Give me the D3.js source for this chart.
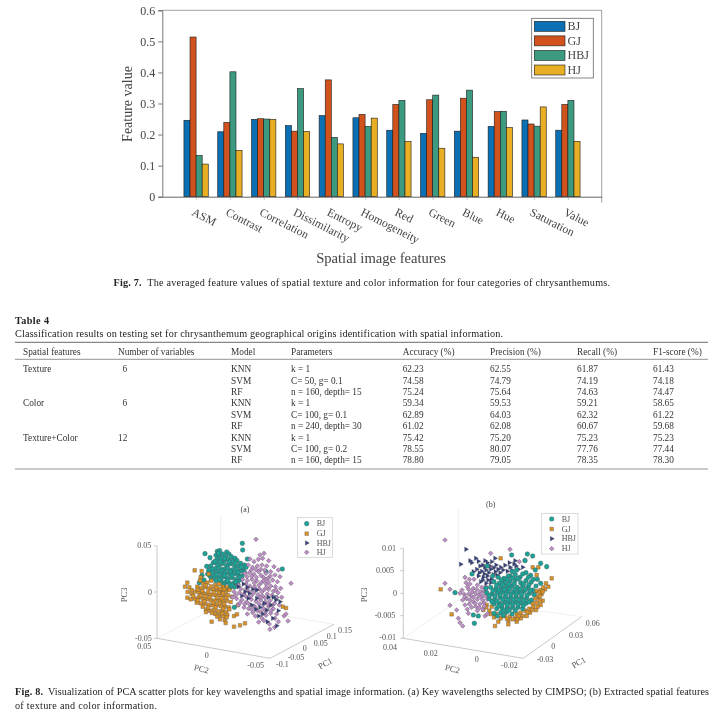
<!DOCTYPE html>
<html><head><meta charset="utf-8">
<script src="https://cdn.jsdelivr.net/npm/d3@7"></script>
<style>
html,body{margin:0;padding:0;background:#fff}
svg{display:block;filter:blur(0.35px)}
text{font-family:"Liberation Serif",serif}
</style></head><body><svg id="c" width="720" height="720"></svg>
<script>
// ---- Fig. 7 data
const features=["ASM","Contrast","Correlation","Dissimilarity","Entropy","Homogeneity","Red","Green","Blue","Hue","Saturation","Value"];
const origins=["BJ","GJ","HBJ","HJ"];
const barBJ=[.246,.209,.249,.229,.261,.254,.214,.204,.211,.226,.247,.214];
const barGJ=[.514,.239,.251,.211,.376,.265,.297,.312,.317,.274,.234,.297];
const barHBJ=[.133,.402,.250,.348,.191,.226,.310,.327,.343,.275,.227,.310];
const barHJ=[.105,.149,.249,.210,.170,.253,.178,.156,.127,.223,.289,.178];
const barColors=["#0b6fb3","#d2521d","#3b9a80","#e8ae24"];
const yTicks=[0,.1,.2,.3,.4,.5,.6];
// ---- Table 4 data
const tableHeaders=["Spatial features","Number of variables","Model","Parameters","Accuracy (%)","Precision (%)","Recall (%)","F1-score (%)"];
const tableFeature=["Texture","","","Color","","","Texture+Color","",""];
const tableVars=["6","","","6","","","12","",""];
const tableModel=["KNN","SVM","RF","KNN","SVM","RF","KNN","SVM","RF"];
const tableParams=["k = 1","C= 50, g= 0.1","n = 160, depth= 15","k = 1","C= 100, g= 0.1","n = 240, depth= 30","k = 1","C= 100, g= 0.2","n = 160, depth= 15"];
const tableAcc=["62.23","74.58","75.24","59.34","62.89","61.02","75.42","78.55","78.80"];
const tablePre=["62.55","74.79","75.64","59.53","64.03","62.08","75.20","80.07","79.05"];
const tableRec=["61.87","74.19","74.63","59.21","62.32","60.67","75.23","77.76","78.35"];
const tableF1=["61.43","74.18","74.47","58.65","61.22","59.68","75.23","77.44","78.30"];
// ---- Fig. 8 projected scatter readings (horizontal and vertical position on the drawing plane of each panel)
const aBJ=[[285,191],[397,160],[398,180],[517,237],[412,207],[322,184],[329,182],[350,186],[357,192],[318,196],[327,199],[338,192],[346,199],[364,200],[375,205],[300,203],[321,209],[333,206],[343,213],[355,208],[367,214],[381,212],[392,220],[404,225],[310,218],[322,224],[336,221],[349,226],[360,222],[373,227],[386,229],[399,236],[408,232],[290,229],[302,228],[316,236],[328,233],[341,238],[353,235],[366,240],[378,238],[391,243],[403,246],[296,241],[308,247],[322,246],[334,250],[347,248],[359,252],[372,251],[384,255],[396,258],[276,256],[300,258],[313,260],[327,262],[340,261],[352,265],[365,263],[377,268],[389,270],[268,278],[318,272],[333,274],[346,277],[358,280],[371,279],[383,282],[361,293],[374,291],[468,245],[373,352],[498,323],[326,190],[344,206],[315,214],[331,216],[358,216],[376,219],[394,231],[306,237],[335,241],[361,245],[384,247],[293,252],[319,254],[344,256],[366,257],[390,262],[329,268],[353,272],[378,275],[341,284],[366,286],[304,268],[282,270],[350,297]];
const aGJ=[[254,241],[275,243],[272,262],[296,252],[232,278],[225,290],[238,292],[245,300],[270,272],[280,281],[292,278],[304,272],[316,285],[328,282],[338,290],[350,292],[262,290],[274,294],[286,292],[298,296],[310,298],[322,300],[335,302],[348,305],[358,300],[233,306],[245,312],[256,305],[268,308],[280,310],[292,312],[304,314],[316,316],[329,315],[342,318],[354,316],[366,320],[232,323],[242,328],[254,326],[266,322],[278,326],[290,328],[302,330],[314,332],[326,330],[338,334],[350,332],[362,336],[260,338],[272,340],[284,342],[296,344],[308,346],[320,344],[332,348],[344,350],[356,352],[288,358],[300,362],[312,360],[324,364],[336,362],[348,366],[358,358],[316,372],[328,376],[340,378],[352,374],[330,388],[344,390],[350,382],[305,395],[347,399],[372,410],[390,406],[405,400],[372,378],[381,373],[518,350],[528,354],[288,366],[384,345],[287,286],[303,289],[319,292],[331,296],[343,298],[263,299],[277,303],[295,305],[311,307],[326,308],[339,310],[250,318],[272,316],[286,319],[299,322],[321,323],[335,325],[349,324],[263,331],[283,334],[309,338],[329,339],[343,342],[278,350],[295,353],[317,352],[340,356],[306,369],[322,380],[336,370]];
const aHBJ=[[385,290],[400,282],[412,292],[405,305],[418,310],[395,318],[425,345],[437,358],[450,352],[462,340],[475,322],[490,322],[498,330],[482,345],[470,360],[446,378],[458,372],[500,407],[472,395],[440,325],[428,298],[488,385],[510,335],[505,362],[415,325],[440,300]];
const aHJ=[[438,148],[543,280],[534,393],[420,207],[432,215],[450,195],[462,190],[458,205],[445,208],[476,212],[470,228],[492,230],[505,240],[415,225],[428,232],[442,228],[456,225],[468,250],[482,245],[495,255],[510,260],[405,250],[418,248],[432,252],[446,245],[460,262],[474,265],[488,270],[502,275],[398,268],[412,272],[426,268],[440,272],[454,278],[468,282],[482,288],[496,290],[512,295],[385,285],[420,288],[434,290],[448,296],[462,300],[476,298],[490,304],[504,308],[372,305],[388,308],[402,312],[416,304],[430,310],[444,314],[458,318],[472,312],[486,316],[515,322],[368,322],[380,326],[396,330],[410,336],[424,328],[438,334],[452,330],[466,336],[480,332],[494,340],[508,345],[385,345],[402,352],[416,356],[432,348],[447,342],[460,356],[476,350],[490,356],[500,372],[412,372],[428,368],[442,362],[456,385],[468,376],[482,370],[495,385],[522,378],[528,372],[446,396],[462,392],[478,402],[480,418],[494,412],[505,395],[436,378],[424,240],[438,239],[452,238],[464,240],[411,260],[425,258],[439,262],[453,256],[467,268],[481,258],[408,282],[433,279],[447,285],[461,272],[476,277],[393,297],[409,296],[438,301],[455,306],[469,292],[498,300],[378,315],[408,320],[423,318],[451,322],[466,324],[499,322],[390,338],[404,342],[419,344],[460,344],[473,342],[487,346],[425,358],[452,366],[467,365],[484,362],[436,352]];
const bBJ=[[255,308],[425,195],[472,192],[488,198],[512,220],[530,230],[313,400],[310,375],[325,378],[465,212],[352,228],[368,258],[306,252],[385,262],[402,265],[420,258],[436,254],[450,262],[468,248],[482,256],[496,240],[502,268],[512,280],[372,275],[388,280],[404,278],[420,274],[436,270],[452,278],[468,272],[484,276],[498,288],[362,292],[378,296],[394,292],[410,290],[426,288],[442,292],[458,288],[474,292],[488,300],[350,308],[366,312],[382,308],[398,306],[414,304],[430,306],[446,306],[462,304],[478,310],[492,314],[358,326],[374,328],[390,322],[406,320],[422,322],[438,320],[454,322],[470,324],[484,330],[372,342],[388,340],[404,336],[420,338],[436,336],[452,338],[468,340],[380,356],[396,354],[412,352],[428,352],[444,352],[458,356],[372,370],[392,368],[410,366],[426,372],[415,258],[348,295],[440,240],[427,245],[458,252],[475,262],[490,268],[395,270],[412,268],[428,264],[444,266],[380,286],[398,285],[416,283],[433,281],[461,282],[477,284],[369,302],[387,300],[403,298],[419,296],[435,298],[451,298],[467,298],[481,302],[358,316],[375,318],[391,314],[408,312],[423,313],[439,313],[455,313],[471,316],[366,335],[381,333],[398,329],[414,329],[430,329],[446,329],[462,331],[477,336],[396,345],[412,344],[428,344],[444,344],[460,347],[386,348],[402,361],[418,360],[436,362],[382,378],[400,376]];
const bGJ=[[212,298],[245,373],[392,205],[545,265],[375,408],[415,403],[440,395],[535,290],[525,298],[512,300],[500,303],[515,312],[505,322],[518,332],[500,338],[512,345],[490,350],[478,356],[498,360],[480,368],[466,362],[452,368],[440,372],[458,378],[436,384],[420,380],[405,378],[392,385],[372,382],[385,395],[415,392],[350,345],[358,362],[340,360],[365,350],[528,280],[500,255],[488,232],[510,318],[470,378],[452,385],[505,232],[520,292],[508,308],[496,326],[510,332],[488,340],[503,350],[472,366],[486,360],[446,378],[428,388],[411,386],[398,378],[378,372],[362,372],[348,352],[518,305],[494,312],[442,388]];
const bHBJ=[[288,178],[272,223],[300,212],[317,205],[345,212],[375,205],[305,218],[325,214],[338,225],[352,218],[365,215],[378,225],[392,232],[405,226],[420,232],[432,222],[445,238],[458,232],[320,238],[335,244],[348,240],[362,238],[376,245],[390,248],[325,258],[340,262],[352,258],[364,268],[332,275],[348,280],[362,278],[310,245],[435,212],[418,218],[330,228],[344,232],[358,228],[371,233],[384,238],[399,240],[412,244],[328,248],[343,252],[356,248],[370,254],[381,256],[338,270],[354,270],[425,240],[438,228]];
const bHJ=[[225,150],[225,280],[240,298],[240,346],[260,360],[265,385],[270,398],[278,408],[362,190],[420,178],[465,210],[285,262],[298,268],[288,278],[300,282],[312,268],[270,310],[282,312],[296,298],[310,295],[322,285],[335,292],[348,290],[278,330],[290,326],[304,318],[316,310],[330,305],[342,302],[285,345],[298,342],[310,335],[322,328],[334,322],[346,318],[292,358],[305,352],[318,350],[330,342],[342,338],[295,370],[322,362],[338,358],[345,378],[360,230],[448,215],[352,372],[292,290],[306,305],[320,298],[335,312],[348,306],[276,300],[296,312],[311,322],[325,316],[338,330],[352,328],[300,330],[315,340],[328,352],[343,348],[285,320]];
const panelA={title:"(a)",order:[[0,aBJ],[1,aGJ],[3,aHJ],[2,aHBJ]]};
const panelB={title:"(b)",order:[[1,bGJ],[3,bHJ],[2,bHBJ],[0,bBJ]]};
const scatterColors=["#1ca297","#dc9326","#333f80","#bb8cc5"];

const svg=d3.select("#c");
// ================= Fig. 7
const x=d3.scaleLinear().domain([0,13]).range([162.3,601.7]);
const y=d3.scaleLinear().domain([0,.6]).range([196.7,10.3]);
const off=d3.scaleBand().domain(origins).range([-.36,.36]);
const g=svg.append("g");
g.append("path").attr("d",`M${x(0)},${y(.6)}H${x(13)}V${y(0)+6}`).attr("fill","none").attr("stroke","#888").attr("stroke-width",.8);
[barBJ,barGJ,barHBJ,barHJ].forEach((vals,s)=>{
  g.selectAll(null).data(vals).join("rect")
   .attr("x",(d,i)=>x(i+1+off(origins[s])))
   .attr("width",x(off.bandwidth())-x(0))
   .attr("y",d=>y(d)).attr("height",d=>y(0)-y(d))
   .attr("fill",barColors[s]).attr("stroke","#1c1c1c").attr("stroke-width",.6);
});
const ya=g.append("g").attr("transform",`translate(${x(0)},0)`).call(d3.axisLeft(y).tickValues(yTicks).tickFormat(d=>d===0?"0":d.toFixed(1)).tickSize(4).tickPadding(3));
ya.selectAll("text").attr("font-size",12).attr("fill","#444").style("font-family","Liberation Serif");
ya.selectAll("line,path").attr("stroke","#555").attr("stroke-width",.8);
const xa=g.append("g").attr("transform",`translate(0,${y(0)})`).call(d3.axisBottom(x).tickValues(d3.range(1,13)).tickFormat("").tickSize(3).tickSizeOuter(0));
xa.selectAll("line").attr("stroke","#999").attr("stroke-width",.6);
xa.select("path").attr("stroke","#555").attr("stroke-width",.9);
g.selectAll(null).data(features).join("text")
 .attr("transform",(d,i)=>`translate(${x(i+1)-5},${y(0)+18}) rotate(27)`)
 .attr("font-size",11.7).attr("fill","#444").text(d=>d);
g.append("text").attr("transform",`translate(132,${y(.3)+.5}) rotate(-90)`).attr("text-anchor","middle").attr("font-size",14).attr("fill","#444").text("Feature value");
g.append("text").attr("x",381).attr("y",262.5).attr("text-anchor","middle").attr("font-size",14.6).attr("fill","#444").text("Spatial image features");
// legend
g.append("rect").attr("x",531.7).attr("y",18.3).attr("width",61.6).attr("height",59.7).attr("fill","#fff").attr("stroke","#666").attr("stroke-width",.8);
const ly=d3.scalePoint().domain(origins).range([26.3,70]);
origins.forEach((o,s)=>{
  g.append("rect").attr("x",534.3).attr("y",ly(o)-5).attr("width",30.7).attr("height",10).attr("fill",barColors[s]).attr("stroke","#1c1c1c").attr("stroke-width",.6);
  g.append("text").attr("x",567.5).attr("y",ly(o)+4).attr("font-size",12).attr("fill","#444").text(o);
});
// ================= captions
function cap(str,px,py,len,bold,size){
  const t=svg.append("text").attr("x",px).attr("y",py).attr("font-size",size||10.2).attr("fill","#222").attr("font-weight",bold?"bold":null).text(str);
  if(len)t.attr("textLength",len).attr("lengthAdjust","spacing");
  return t;
}
cap("Fig. 7.",113.5,285.5,28,true);
cap("The averaged feature values of spatial texture and color information for four categories of chrysanthemums.",147.3,285.5,462.7);
cap("Table 4",15,324,34,true);
cap("Classification results on testing set for chrysanthemum geographical origins identification with spatial information.",15,336.5,488);
// ================= Table
[[342.3,"#444",.8],[359.3,"#888",.9],[469,"#888",.9]].forEach(r=>svg.append("line").attr("x1",15).attr("x2",708).attr("y1",r[0]).attr("y2",r[0]).attr("stroke",r[1]).attr("stroke-width",r[2]));
const colX=[23,118,231,291,402.7,490,577,653];
tableHeaders.forEach((h,i)=>svg.append("text").attr("x",colX[i]).attr("y",354.7).attr("font-size",9.3).attr("fill","#333").text(h));
const rowY=d3.scalePoint().domain(d3.range(9)).range([372.3,463.3]);
[tableFeature,tableVars,tableModel,tableParams,tableAcc,tablePre,tableRec,tableF1].forEach((col,c)=>{
  svg.selectAll(null).data(col).join("text")
   .attr("x",d=>c===1&&d.length===1?122.5:colX[c]).attr("y",(d,i)=>rowY(i))
   .attr("font-size",9.3).attr("fill","#333").text(d=>d);
});
// ================= Fig. 8
cap("Fig. 8.",15,695,28,true);
cap("Visualization of PCA scatter plots for key wavelengths and spatial image information. (a) Key wavelengths selected by CIMPSO; (b) Extracted spatial features",48,695,661);
cap("of texture and color information.",15,709,142);

function drawPanel(p,cfg){
  const sx=d3.scaleLinear().domain([0,750]).range([cfg.ox,cfg.ox+250]);
  const sy=d3.scaleLinear().domain([0,570]).range([490,680]);
  const G=svg.append("g");
  const ln=(a,b,c,w)=>G.append("line").attr("x1",sx(a[0])).attr("y1",sy(a[1])).attr("x2",sx(b[0])).attr("y2",sy(b[1])).attr("stroke",c).attr("stroke-width",w||.7);
  cfg.grid.forEach(s=>ln(s[0],s[1],"#e6e6e6",.6));
  cfg.axes.forEach(s=>ln(s[0],s[1],"#bbb",.8));
  cfg.labels.forEach(l=>G.append("text").attr("x",sx(l[1])).attr("y",sy(l[2])+2.6).attr("text-anchor","middle").attr("font-size",8).attr("fill","#555").text(l[0]));
  cfg.names.forEach(l=>G.append("text").attr("transform",`translate(${sx(l[1])},${sy(l[2])+2.6}) rotate(${l[3]})`).attr("text-anchor","middle").attr("font-size",8.5).attr("fill","#555").text(l[0]));
  G.append("text").attr("x",sx(cfg.t[0])).attr("y",sy(cfg.t[1])+2.6).attr("text-anchor","middle").attr("font-size",8).attr("fill","#444").text(p.title);
  const syms=[d3.symbolCircle,d3.symbolSquare,d3.symbolTriangle,d3.symbolSquare];
  const sizes=[17,13,9,11];
  const spin=[0,0,90,45];
  const mk=(s,px,py)=>G.append("path").attr("d",d3.symbol().type(syms[s]).size(sizes[s])())
    .attr("transform",`translate(${px},${py}) rotate(${spin[s]})`)
    .attr("fill",scatterColors[s]).attr("stroke","#4a4a4a").attr("stroke-width",.35);
  p.order.forEach(([s,pts])=>pts.forEach(d=>mk(s,sx(d[0]),sy(d[1]))));
  const L=cfg.leg;
  G.append("rect").attr("x",sx(L.x0)).attr("y",sy(L.y0)).attr("width",sx(L.x1)-sx(L.x0)).attr("height",sy(L.y1)-sy(L.y0)).attr("fill","#fff").attr("stroke","#ccc").attr("stroke-width",.7);
  origins.forEach((o,i)=>{
    mk(i,sx(L.mx),sy(L.ys[i]));
    G.append("text").attr("x",sx(L.tx)).attr("y",sy(L.ys[i])+2.6).attr("font-size",8).attr("fill","#555").text(o);
  });
}
drawPanel(panelA,{ox:110,t:[405,57],
 axes:[[[141,168],[141,445]],[[141,445],[480,505]],[[480,505],[672,403]],[[141,168],[132,168]],[[141,306],[132,306]],[[141,445],[132,445]]],
 grid:[[[141,445],[332,345]],[[332,75],[332,345]],[[332,345],[672,403]]],
 labels:[["0.05",103,167],["0",120,306],["-0.05",100,445],["0.05",103,470],["0",290,497],["-0.05",437,525],["-0.1",517,522],["-0.05",558,503],["0",584,474],["0.05",632,460],["0.1",665,440],["0.15",705,422]],
 names:[["PC3",52,307,-90],["PC2",272,537,15],["PC1",650,520,-30]],
 leg:{x0:562,y0:82,x1:667,y1:202,mx:590,tx:620,ys:[101,131,159,187]}});
drawPanel(panelB,{ox:370,t:[362,42],
 axes:[[[100,175],[100,445]],[[100,445],[460,505]],[[460,505],[635,380]],[[100,175],[91,175]],[[100,242],[91,242]],[[100,310],[91,310]],[[100,377],[91,377]],[[100,445],[91,445]]],
 grid:[[[100,445],[265,330]],[[265,55],[265,330]],[[265,330],[635,380]]],
 labels:[["0.01",57,175],["0.005",45,242],["0",75,310],["-0.005",45,377],["-0.01",53,443],["0.04",60,472],["0.02",182,490],["0",320,508],["-0.02",418,525],["-0.03",525,507],["0",550,470],["0.03",618,435],["0.06",668,400]],
 names:[["PC3",-10,307,-90],["PC2",245,537,15],["PC1",630,517,-30]],
 leg:{x0:515,y0:70,x1:624,y1:192,mx:545,tx:575,ys:[87,117,146,176]}});
</script></body></html>
